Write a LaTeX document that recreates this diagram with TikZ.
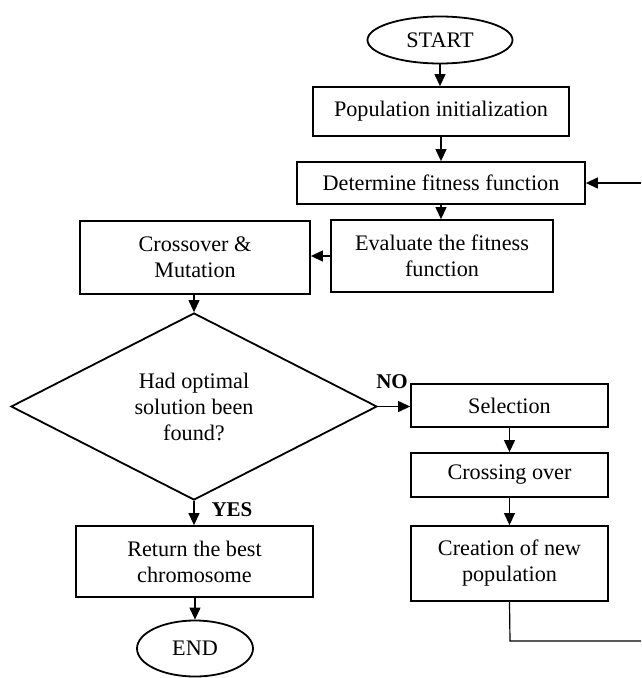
\documentclass[tikz,border=0pt]{standalone}
\usepackage{fontspec}
\setmainfont{Liberation Serif}
\usetikzlibrary{shapes.geometric,arrows.meta}
\begin{document}
\begin{tikzpicture}[x=1pt,y=-1pt,
  every node/.style={font=\fontsize{22.2}{26}\selectfont, align=center, inner sep=0pt},
  box/.style={draw, line width=1.8pt, rectangle},
  term/.style={draw, line width=1.8pt, ellipse},
  decision/.style={draw, line width=1.8pt, diamond},
  flow/.style={line width=1.2pt, -{Triangle[length=12pt,width=11pt]}},
  plain/.style={line width=1.2pt},
  lbl/.style={font=\fontsize{21}{24}\selectfont\bfseries}]
\useasboundingbox (0,0) rectangle (641,678);

% main column
\node[term, minimum width=145pt, minimum height=47pt] (start) at (440,40) {START};
\node[box, minimum width=256pt, minimum height=49pt] (init) at (441,111.5) {Population initialization};
\node[box, minimum width=288pt, minimum height=42pt] (fit) at (441,183) {Determine fitness function};
\node[box, minimum width=222pt, minimum height=72pt] (eval) at (442,256) {Evaluate the fitness\\function};
\node[box, minimum width=230pt, minimum height=73pt] (cross) at (195,257.5) {Crossover \&\\Mutation};
\node[decision, minimum width=366pt, minimum height=187pt] (found) at (194,406.5) {Had optimal\\solution been\\found?};
\node[box, minimum width=237pt, minimum height=71pt] (best) at (194.5,561.5) {Return the best\\chromosome};
\node[term, minimum width=116pt, minimum height=56pt] (end) at (195,648.5) {END};

% selection branch
\node[box, minimum width=197pt, minimum height=43pt] (sel) at (509.5,405.5) {Selection};
\node[box, minimum width=197pt, minimum height=44pt] (co) at (509.5,475) {Crossing over};
\node[box, minimum width=197pt, minimum height=75pt] (newpop) at (509.5,563.5) {Creation of new\\population};

% loop-back ends at the right border
\coordinate (loopdown) at (510,641);
\coordinate (loopout) at (641,641);
\coordinate (loopin) at (641,183);

% connectors
\draw[flow] (start.south) -- (start.south |- init.north);
\draw[flow] (init.south -| fit.north) -- (fit.north);
\draw[flow] (fit.south) -- (fit.south |- eval.north);
\draw[flow] (eval.west) -- (eval.west -| cross.east);
\draw[flow] (cross.south -| found.north) -- (found.north);
\draw[flow] (found.east) -- (found.east -| sel.west);
\draw[flow] (found.south) -- (found.south |- best.north);
\draw[flow] (best.south -| end.north) -- (end.north);
\draw[flow] (sel.south) -- (co.north);
\draw[flow] (co.south) -- (newpop.north);
\draw[plain] (newpop.south) -- (loopdown) -- (loopout);
\draw[flow] (loopin) -- (fit.east);

% branch labels
\node[lbl] (no) at (392,382) {NO};
\node[lbl] (yes) at (232,510) {YES};
\end{tikzpicture}
\end{document}
